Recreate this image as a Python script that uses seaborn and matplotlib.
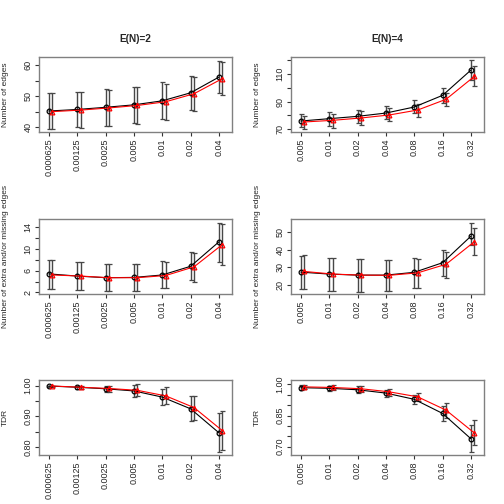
import numpy as np
import pandas as pd
import seaborn as sns
import matplotlib.pyplot as plt

sns.set_style("white")
plt.rcParams['font.family'] = ['Liberation Sans', 'DejaVu Sans']

# x categories for each column
x_en2 = ["0.000625", "0.00125", "0.0025", "0.005", "0.01", "0.02", "0.04"]
x_en4 = ["0.005", "0.01", "0.02", "0.04", "0.08", "0.16", "0.32"]

# row 1: number of edges (mean, low, high)
edges2_blk = [45.2, 45.7, 46.4, 47.2, 48.5, 51.1, 56.2]
edges2_blk_lo = [39.3, 40.0, 40.5, 41.3, 42.7, 45.5, 51.0]
edges2_blk_hi = [50.9, 51.5, 52.2, 53.1, 54.5, 56.7, 61.5]
edges2_red = [45.0, 45.5, 46.2, 47.0, 48.2, 50.8, 55.7]
edges2_red_lo = [39.3, 39.8, 40.3, 41.1, 42.3, 45.2, 50.3]
edges2_red_hi = [50.9, 51.3, 52.0, 52.9, 54.1, 56.3, 61.0]

edges4_blk = [75.8, 77.5, 79.2, 81.6, 86.0, 94.5, 112.9]
edges4_blk_lo = [71.3, 72.4, 74.4, 77.0, 81.4, 89.1, 105.6]
edges4_blk_hi = [81.1, 82.6, 84.0, 86.7, 90.9, 99.6, 119.9]
edges4_red = [75.1, 76.3, 78.0, 80.2, 83.8, 91.6, 108.3]
edges4_red_lo = [70.0, 71.0, 73.0, 75.5, 79.0, 87.0, 101.0]
edges4_red_hi = [79.7, 81.0, 83.0, 85.0, 88.5, 96.0, 115.6]

# row 2: number of extra and/or missing edges
err2_blk = [5.4, 5.0, 4.7, 4.75, 5.2, 6.8, 11.3]
err2_blk_lo = [2.7, 2.5, 2.2, 2.3, 2.8, 4.2, 7.6]
err2_blk_hi = [7.9, 7.6, 7.3, 7.2, 7.7, 9.5, 14.8]
err2_red = [5.2, 5.0, 4.7, 4.7, 5.1, 6.7, 10.8]
err2_red_lo = [2.7, 2.5, 2.3, 2.3, 2.8, 4.0, 7.0]
err2_red_hi = [8.0, 7.6, 7.3, 7.2, 7.6, 9.3, 14.5]

err4_blk = [27.2, 26.1, 25.5, 25.5, 27.1, 32.6, 47.8]
err4_blk_lo = [17.5, 16.5, 16.0, 16.3, 18.2, 25.2, 42.5]
err4_blk_hi = [36.4, 35.5, 34.5, 34.3, 35.2, 40.0, 55.4]
err4_red = [27.6, 26.1, 25.5, 25.4, 26.8, 31.7, 44.6]
err4_red_lo = [17.8, 16.5, 16.0, 16.3, 18.0, 24.0, 37.0]
err4_red_hi = [37.0, 35.5, 34.7, 34.3, 34.8, 39.0, 52.4]

# row 3: TDR
tdr2_blk = [0.999, 0.995, 0.990, 0.983, 0.963, 0.925, 0.847]
tdr2_blk_lo = [0.997, 0.990, 0.980, 0.963, 0.937, 0.885, 0.785]
tdr2_blk_hi = [1.000, 1.000, 1.000, 1.003, 0.990, 0.965, 0.910]
tdr2_red = [0.999, 0.995, 0.991, 0.985, 0.967, 0.929, 0.854]
tdr2_red_lo = [0.997, 0.990, 0.981, 0.965, 0.940, 0.890, 0.790]
tdr2_red_hi = [1.000, 1.000, 1.000, 1.004, 0.995, 0.968, 0.917]

tdr4_blk = [0.984, 0.981, 0.974, 0.958, 0.928, 0.860, 0.738]
tdr4_blk_lo = [0.975, 0.970, 0.960, 0.940, 0.905, 0.825, 0.675]
tdr4_blk_hi = [0.995, 0.992, 0.990, 0.975, 0.950, 0.895, 0.803]
tdr4_red = [0.988, 0.985, 0.979, 0.964, 0.940, 0.876, 0.766]
tdr4_red_lo = [0.980, 0.975, 0.965, 0.945, 0.920, 0.840, 0.710]
tdr4_red_hi = [0.995, 0.995, 0.992, 0.980, 0.960, 0.910, 0.830]

panels = [
    (x_en2, edges2_blk, edges2_blk_lo, edges2_blk_hi, edges2_red, edges2_red_lo, edges2_red_hi,
     (38.4, 62.7), [40, 45, 50, 55, 60], ["40", "", "50", "", "60"], "Number of edges"),
    (x_en4, edges4_blk, edges4_blk_lo, edges4_blk_hi, edges4_red, edges4_red_lo, edges4_red_hi,
     (67.8, 122.4), [70, 80, 90, 100, 110, 120], ["70", "", "90", "", "110", ""], "Number of edges"),
    (x_en2, err2_blk, err2_blk_lo, err2_blk_hi, err2_red, err2_red_lo, err2_red_hi,
     (1.7, 15.5), [2, 4, 6, 8, 10, 12, 14], ["2", "", "6", "", "10", "", "14"],
     "Number of extra and/or missing edges"),
    (x_en4, err4_blk, err4_blk_lo, err4_blk_hi, err4_red, err4_red_lo, err4_red_hi,
     (14.7, 57.6), [20, 30, 40, 50], ["20", "30", "40", "50"],
     "Number of extra and/or missing edges"),
    (x_en2, tdr2_blk, tdr2_blk_lo, tdr2_blk_hi, tdr2_red, tdr2_red_lo, tdr2_red_hi,
     (0.775, 1.0185), [0.80, 0.85, 0.90, 0.95, 1.00], ["0.80", "", "0.90", "", "1.00"], "TDR"),
    (x_en4, tdr4_blk, tdr4_blk_lo, tdr4_blk_hi, tdr4_red, tdr4_red_lo, tdr4_red_hi,
     (0.66, 1.021), [0.70, 0.75, 0.80, 0.85, 0.90, 0.95, 1.00],
     ["0.70", "", "", "0.85", "", "", "1.00"], "TDR"),
]
titles = ["E(N)=2", "E(N)=4"]

fig = plt.figure(figsize=(5.04, 5.04), dpi=100)
lefts = [39 / 504, 291 / 504]
bottoms = [1 - 132 / 504, 1 - 294 / 504, 1 - 455 / 504]
w, h = 193 / 504, 75 / 504
frame_col = "#808080"

for k, (xl, b, blo, bhi, r, rlo, rhi, ylim, yt, ytl, ylab) in enumerate(panels):
    row, col = divmod(k, 2)
    ax = fig.add_axes([lefts[col], bottoms[row], w, h])
    pos = np.arange(1, len(xl) + 1)
    # error bars first, underneath the lines
    for off, m, lo, hi in [(0, b, blo, bhi), (0.12, r, rlo, rhi)]:
        m = np.array(m)
        ax.errorbar(pos + off, m, yerr=[m - np.array(lo), np.array(hi) - m],
                    fmt="none", ecolor="#474747", elinewidth=1.0,
                    capsize=1.8, capthick=0.9, zorder=2)
    df = pd.DataFrame({
        "x": np.concatenate([pos, pos + 0.12]),
        "y": b + r,
        "series": ["a"] * len(b) + ["b"] * len(r),
    })
    sns.lineplot(data=df, x="x", y="y", hue="series", style="series",
                 palette={"a": "black", "b": "red"},
                 markers={"a": "o", "b": "^"}, dashes=False,
                 markersize=3.4, linewidth=0.8, legend=False, ax=ax, zorder=3)
    for ln in ax.get_lines():
        if ln.get_marker() in ("o", "^"):
            ln.set_markeredgecolor(ln.get_color())
            ln.set_markerfacecolor("none")
            ln.set_markeredgewidth(0.9)
    ax.set_xlim(0.65, 7.46)
    ax.set_ylim(*ylim)
    ax.set_xticks(pos)
    ax.set_xticklabels(xl, rotation=90, fontsize=6.5)
    ax.set_yticks(yt)
    ax.set_yticklabels(ytl, rotation=90, va="center", fontsize=6.5)
    ax.tick_params(direction="out", length=3, width=0.8, color="#333333",
                   pad=1.5, left=True, bottom=True)
    ax.set_xlabel("")
    ax.set_ylabel(ylab, fontsize=6)
    ax.yaxis.set_label_coords(-0.155, 0.5)
    for s in ax.spines.values():
        s.set_color(frame_col)
        s.set_linewidth(1.0)
    if row == 0:
        ax.set_title(titles[col], fontsize=7.2, fontweight="bold", y=1.2, pad=0)

fig.savefig("out.png", dpi=100)
